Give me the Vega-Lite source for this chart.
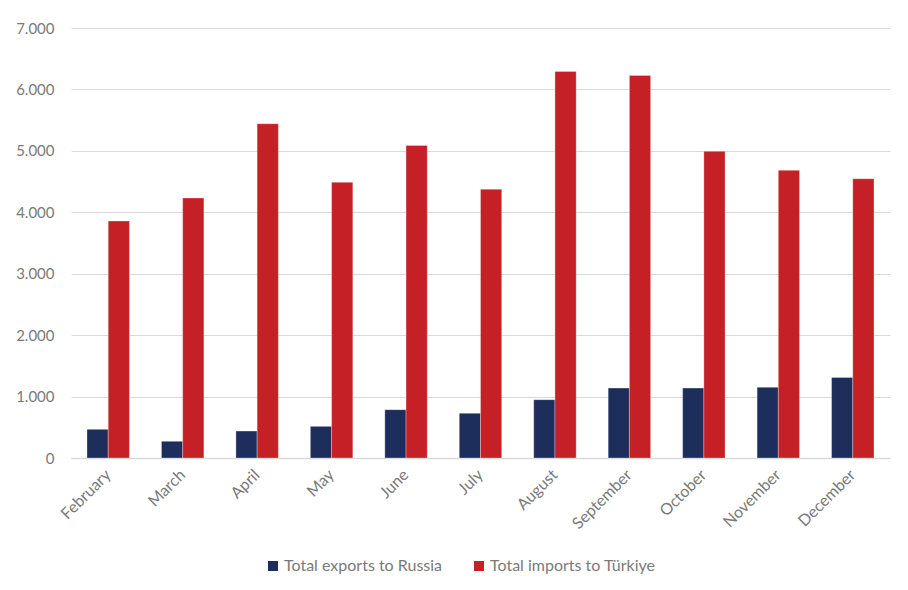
{
  "$schema": "https://vega.github.io/schema/vega-lite/v6.json",
  "autosize": "none",
  "width": 819,
  "height": 430,
  "padding": {"left": 71, "top": 28, "right": 18, "bottom": 132},
  "background": "white",
  "data": {
    "values": [
      {"month": "February", "series": "Total exports to Russia", "value": 467},
      {"month": "February", "series": "Total imports to Türkiye", "value": 3858},
      {"month": "March", "series": "Total exports to Russia", "value": 272},
      {"month": "March", "series": "Total imports to Türkiye", "value": 4233},
      {"month": "April", "series": "Total exports to Russia", "value": 439},
      {"month": "April", "series": "Total imports to Türkiye", "value": 5441},
      {"month": "May", "series": "Total exports to Russia", "value": 515},
      {"month": "May", "series": "Total imports to Türkiye", "value": 4488},
      {"month": "June", "series": "Total exports to Russia", "value": 787},
      {"month": "June", "series": "Total imports to Türkiye", "value": 5089},
      {"month": "July", "series": "Total exports to Russia", "value": 727},
      {"month": "July", "series": "Total imports to Türkiye", "value": 4374},
      {"month": "August", "series": "Total exports to Russia", "value": 950},
      {"month": "August", "series": "Total imports to Türkiye", "value": 6293},
      {"month": "September", "series": "Total exports to Russia", "value": 1138},
      {"month": "September", "series": "Total imports to Türkiye", "value": 6228},
      {"month": "October", "series": "Total exports to Russia", "value": 1138},
      {"month": "October", "series": "Total imports to Türkiye", "value": 4992},
      {"month": "November", "series": "Total exports to Russia", "value": 1150},
      {"month": "November", "series": "Total imports to Türkiye", "value": 4683},
      {"month": "December", "series": "Total exports to Russia", "value": 1312},
      {"month": "December", "series": "Total imports to Türkiye", "value": 4546}
    ]
  },
  "mark": {"type": "bar", "stroke": "#ffffff", "strokeWidth": 0.6, "strokeOpacity": 0.5},
  "encoding": {
    "x": {
      "field": "month",
      "type": "nominal",
      "sort": ["February", "March", "April", "May", "June", "July", "August", "September", "October", "November", "December"],
      "scale": {"paddingInner": 0.43, "paddingOuter": 0.215},
      "axis": {
        "title": null,
        "labelAngle": -45,
        "labelAlign": "right",
        "labelBaseline": "middle",
        "labelPadding": 14,
        "ticks": false,
        "domainColor": "#d9d9d9",
        "domainWidth": 1.5,
        "labelFont": "Lato",
        "labelFontSize": 16,
        "labelColor": "#7a7a7a"
      }
    },
    "xOffset": {
      "field": "series",
      "type": "nominal",
      "sort": ["Total exports to Russia", "Total imports to Türkiye"],
      "scale": {"paddingInner": 0, "paddingOuter": 0}
    },
    "y": {
      "field": "value",
      "type": "quantitative",
      "scale": {"domain": [0, 7000], "nice": false},
      "axis": {
        "title": null,
        "values": [0, 1000, 2000, 3000, 4000, 5000, 6000, 7000],
        "labelExpr": "replace(format(datum.value, ','), ',', '.')",
        "ticks": false,
        "domain": false,
        "labelPadding": 17,
        "gridColor": "#d9d9d9",
        "gridWidth": 1,
        "labelFont": "Lato",
        "labelFontSize": 15,
        "labelColor": "#7a7a7a"
      }
    },
    "color": {
      "field": "series",
      "type": "nominal",
      "sort": ["Total exports to Russia", "Total imports to Türkiye"],
      "scale": {"range": ["#1e2e5c", "#c42026"]},
      "legend": {
        "title": null,
        "orient": "none",
        "direction": "horizontal",
        "legendX": 194,
        "legendY": 530,
        "symbolType": "square",
        "symbolSize": 100,
        "symbolStrokeWidth": 0,
        "symbolOpacity": 1,
        "labelFont": "Lato",
        "labelFontSize": 16,
        "labelColor": "#7a7a7a",
        "labelLimit": 300,
        "labelOffset": 3,
        "columnPadding": 28
      }
    }
  },
  "config": {
    "view": {"stroke": null},
    "axis": {"gridColor": "#d9d9d9"}
  }
}
